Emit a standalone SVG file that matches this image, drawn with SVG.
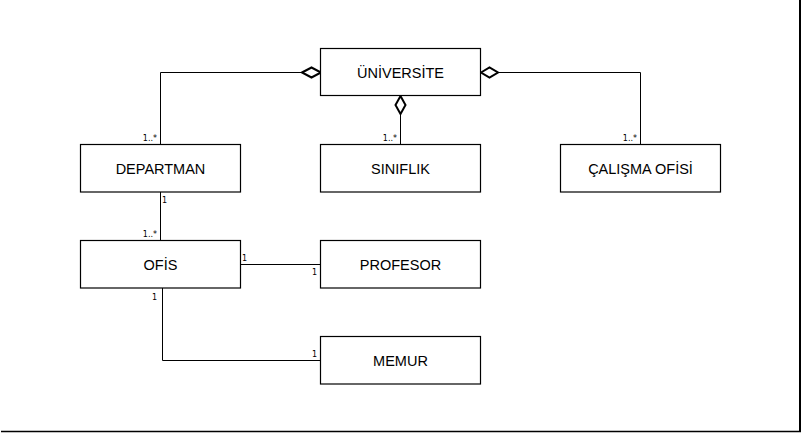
<svg xmlns="http://www.w3.org/2000/svg" width="801" height="433" viewBox="0 0 801 433">
<style>
.box{fill:#fff;stroke:#000;stroke-width:1.2}
.lbl{font-family:"Liberation Sans",Arial,sans-serif;font-size:14.5px;fill:#000;text-anchor:middle}
.m{font-family:"DejaVu Sans",sans-serif;font-size:8px;fill:#000}
.c{fill:none;stroke:#000;stroke-width:1}
.d{fill:#fff;stroke:#000;stroke-width:2}
</style>
<rect width="801" height="433" fill="#fff"/>
<g id="frame">
<line x1="800" y1="0" x2="800" y2="432" stroke="#000" stroke-width="2"/>
<line x1="1" y1="431.5" x2="801" y2="431.5" stroke="#000" stroke-width="1.5"/>
</g>
<g id="connectors">
<polyline class="c" points="160.5,144 160.5,72.5 302,72.5"/>
<polygon class="d" points="302,72.5 311.5,67.5 321,72.5 311.5,77.5"/>
<line class="c" x1="400.5" y1="114" x2="400.5" y2="144"/>
<polygon class="d" points="400.5,96 405.5,105 400.5,114 395.5,105"/>
<polyline class="c" points="498,72.5 640.5,72.5 640.5,144"/>
<polygon class="d" points="481,72.5 489.5,67.5 498,72.5 489.5,77.5"/>
<line class="c" x1="160.5" y1="192" x2="160.5" y2="240"/>
<line class="c" x1="240" y1="264.5" x2="321" y2="264.5"/>
<polyline class="c" points="162.5,288 162.5,360.5 320,360.5"/>
<text class="m" x="157" y="141" text-anchor="end">1..*</text>
<text class="m" x="397" y="141" text-anchor="end">1..*</text>
<text class="m" x="637" y="141" text-anchor="end">1..*</text>
<text class="m" x="162" y="203">1</text>
<text class="m" x="157" y="237" text-anchor="end">1..*</text>
<text class="m" x="242" y="261">1</text>
<text class="m" x="312" y="274.5">1</text>
<text class="m" x="152" y="299.5">1</text>
<text class="m" x="312" y="356.5">1</text>
</g>
<g id="universite"><rect class="box" x="320.5" y="48.5" width="160" height="47"/><text class="lbl" x="400.5" y="77.5">ÜNİVERSİTE</text></g>
<g id="departman"><rect class="box" x="80.5" y="144.5" width="160" height="47.5"/><text class="lbl" x="160.5" y="173.5">DEPARTMAN</text></g>
<g id="siniflik"><rect class="box" x="320.5" y="144.5" width="160" height="47.5"/><text class="lbl" x="400.5" y="173.5">SINIFLIK</text></g>
<g id="calisma"><rect class="box" x="560.5" y="144.5" width="160" height="47.5"/><text class="lbl" x="640.5" y="173.5">ÇALIŞMA OFİSİ</text></g>
<g id="ofis"><rect class="box" x="80.5" y="240.5" width="160" height="47.5"/><text class="lbl" x="160.5" y="269.5">OFİS</text></g>
<g id="profesor"><rect class="box" x="320.5" y="240.5" width="160" height="47.5"/><text class="lbl" x="400.5" y="269.5">PROFESOR</text></g>
<g id="memur"><rect class="box" x="320.5" y="336.5" width="160" height="47.5"/><text class="lbl" x="400.5" y="365.5">MEMUR</text></g>
</svg>
